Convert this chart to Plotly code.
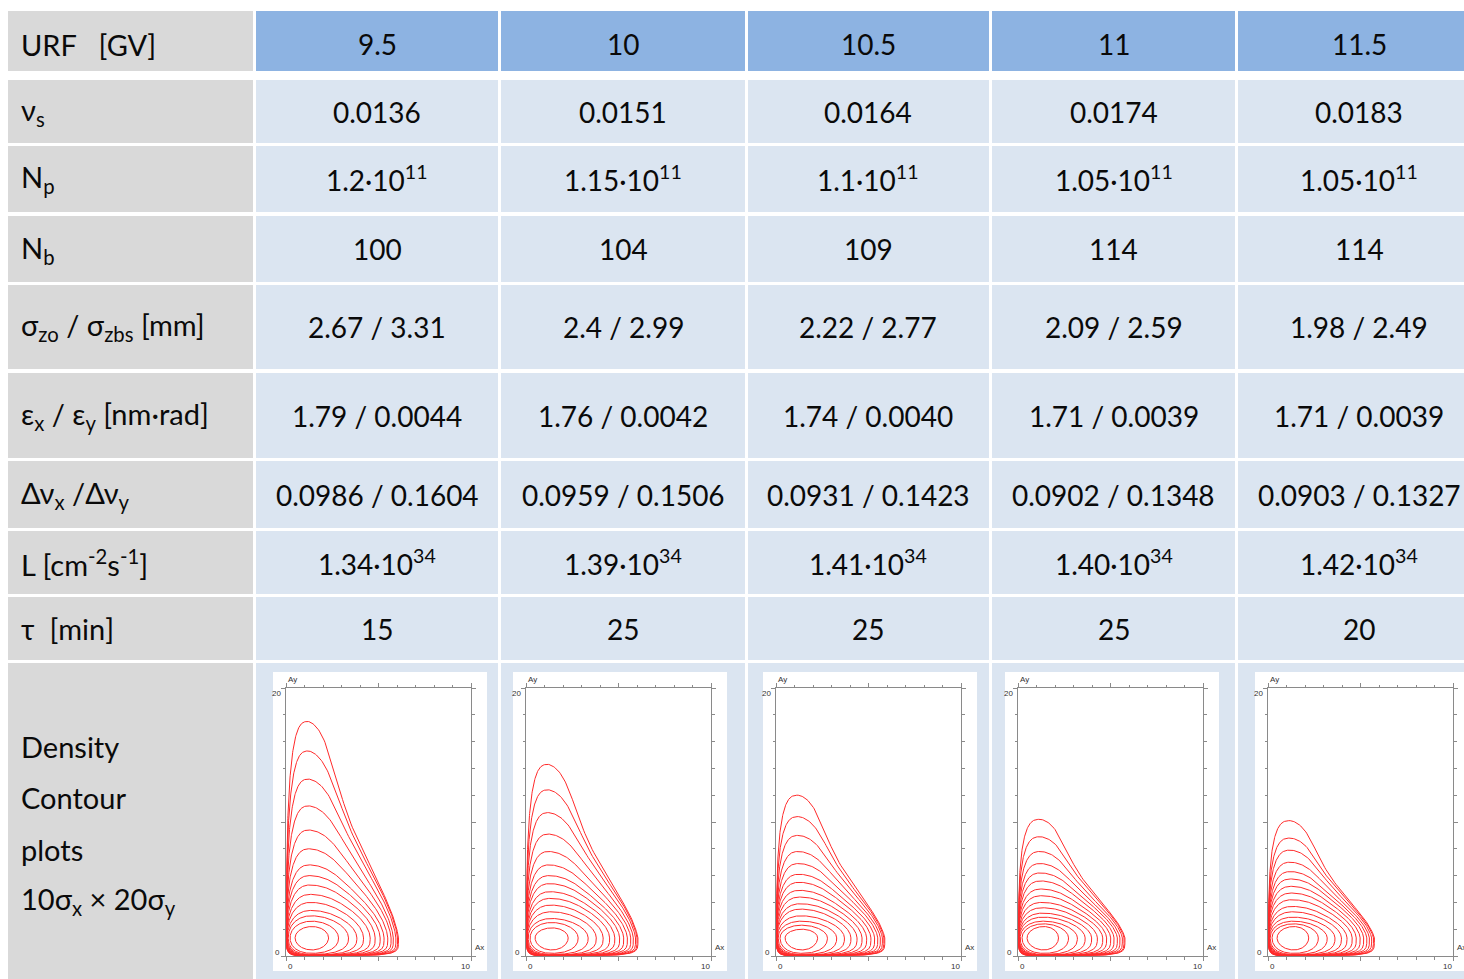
import numpy as np
import plotly.graph_objects as go

W, H = 1464, 979

# ---------------- table values ----------------
urf = ["9.5", "10", "10.5", "11", "11.5"]
nu_s = ["0.0136", "0.0151", "0.0164", "0.0174", "0.0183"]
n_p = ["1.2", "1.15", "1.1", "1.05", "1.05"]          # x 10^11
n_b = [100, 104, 109, 114, 114]
sigma_zo = ["2.67", "2.4", "2.22", "2.09", "1.98"]
sigma_zbs = ["3.31", "2.99", "2.77", "2.59", "2.49"]
eps_x = ["1.79", "1.76", "1.74", "1.71", "1.71"]
eps_y = ["0.0044", "0.0042", "0.0040", "0.0039", "0.0039"]
dnu_x = ["0.0986", "0.0959", "0.0931", "0.0902", "0.0903"]
dnu_y = ["0.1604", "0.1506", "0.1423", "0.1348", "0.1327"]
lumi = ["1.34", "1.39", "1.41", "1.40", "1.42"]       # x 10^34
tau = [15, 25, 25, 25, 20]

row_labels = [
    "URF\u00a0\u00a0\u00a0[GV]",
    "ν<sub>s</sub>",
    "N<sub>p</sub>",
    "N<sub>b</sub>",
    "σ<sub>zo</sub> / σ<sub>zbs</sub> [mm]",
    "ε<sub>x</sub> / ε<sub>y</sub> [nm·rad]",
    "Δν<sub>x</sub> /Δν<sub>y</sub>",
    "L [cm<sup>-2</sup>s<sup>-1</sup>]",
    "τ\u00a0\u00a0[min]",
]
density_label = ["Density", "Contour", "plots", "10σ<sub>x</sub> × 20σ<sub>y</sub>"]

# ---------------- density contours (Ax, Ay in sigma units) ----------------
# extents of each contour, outermost first
ay_tops = [
    [17.5, 15.3, 13.2, 11.2, 9.4, 8.0, 6.8, 6.0, 5.3, 4.6, 4.0, 3.4, 3.0, 2.6, 2.2],
    [14.3, 12.4, 10.7, 9.1, 7.8, 6.8, 6.0, 5.4, 4.8, 4.3, 3.8, 3.3, 2.8, 2.5, 2.1],
    [12.0, 10.4, 9.0, 7.8, 6.9, 6.1, 5.5, 4.9, 4.4, 3.9, 3.5, 3.0, 2.6, 2.3, 2.0],
    [10.2, 8.9, 7.8, 6.9, 6.2, 5.6, 5.0, 4.5, 4.0, 3.6, 3.2, 2.9, 2.6, 2.4, 2.2],
    [10.1, 8.8, 7.9, 7.0, 6.3, 5.75, 5.2, 4.7, 4.2, 3.7, 3.3, 2.9, 2.6, 2.4, 2.2],
]
ax_rights = [
    [6.08, 6.03, 5.94, 5.80, 5.68, 5.50, 5.30, 5.09, 4.82, 4.55, 4.19, 3.83, 3.38, 2.84, 2.30],
    [6.05, 6.00, 5.92, 5.80, 5.66, 5.48, 5.28, 5.06, 4.80, 4.52, 4.17, 3.80, 3.36, 2.82, 2.28],
    [5.88, 5.83, 5.75, 5.64, 5.50, 5.33, 5.13, 4.90, 4.65, 4.38, 4.05, 3.70, 3.28, 2.78, 2.25],
    [5.78, 5.73, 5.64, 5.51, 5.37, 5.19, 5.01, 4.79, 4.58, 4.29, 3.98, 3.63, 3.21, 2.73, 2.19],
    [5.75, 5.70, 5.60, 5.48, 5.34, 5.17, 4.98, 4.77, 4.55, 4.27, 3.97, 3.62, 3.20, 2.72, 2.20],
]
ax_lefts = [0.03] * 8 + [0.04, 0.05, 0.06, 0.08, 0.12, 0.22, 0.49]
ay_bottoms = [0.03] * 8 + [0.04, 0.05, 0.06, 0.08, 0.12, 0.20, 0.45]

# ---------------- geometry (pixels) ----------------
label_col = (8, 253)
value_cols = [(256, 498), (501, 745), (748, 989), (992, 1235), (1238, 1480)]
rows = [(11, 71), (80, 143), (146, 212), (216, 282), (285, 369),
        (373, 458), (461, 528), (531, 594), (597, 660)]
density_row = (663, 990)
plot_lefts = [286, 526, 776, 1018, 1268]
plot_w = 185
plot_top, plot_bot = 688, 956

GREY = "#D9D9D9"
HEAD_BLUE = "#8DB3E2"
BODY_BLUE = "#DBE5F1"
FONT = "Lato"
TXT = "#0A0A0A"
AXC = "#8A8A8A"
TICKFONT = dict(family="Arial", size=8, color="#333333")


def px(x):
    return x / W


def py(y):
    return 1 - y / H


shapes = []


def rect(x0, y0, x1, y1, color):
    shapes.append(dict(type="rect", xref="paper", yref="paper",
                       x0=px(x0), x1=px(x1), y0=py(y1), y1=py(y0),
                       fillcolor=color, line=dict(width=0), layer="below"))


annotations = []


def text(x, y, s, size=28, anchor="center", color=TXT, fam=FONT):
    annotations.append(dict(xref="paper", yref="paper", x=px(x), y=py(y),
                            text=s, showarrow=False, xanchor=anchor,
                            yanchor="middle",
                            font=dict(family=fam, size=size, color=color)))


# cell backgrounds
for r, (y0, y1) in enumerate(rows):
    rect(label_col[0], y0, label_col[1], y1, GREY)
    for (x0, x1) in value_cols:
        rect(x0, y0, x1, y1, HEAD_BLUE if r == 0 else BODY_BLUE)
rect(label_col[0], density_row[0], label_col[1], density_row[1], GREY)
for (x0, x1) in value_cols:
    rect(x0, density_row[0], x1, density_row[1], BODY_BLUE)

# white panels behind the contour plots
for xl in plot_lefts:
    rect(xl - 13, 672, xl + plot_w + 16, 971, "white")

# cell text
cells = [
    urf,
    nu_s,
    [f"{m}·10<sup>11</sup>" for m in n_p],
    [str(v) for v in n_b],
    [f"{a} / {b}" for a, b in zip(sigma_zo, sigma_zbs)],
    [f"{a} / {b}" for a, b in zip(eps_x, eps_y)],
    [f"{a} / {b}" for a, b in zip(dnu_x, dnu_y)],
    [f"{m}·10<sup>34</sup>" for m in lumi],
    [str(v) for v in tau],
]
for r, (y0, y1) in enumerate(rows):
    yc = (y0 + y1) / 2 + (3 if r == 0 else 0)
    text(19, yc, row_labels[r], size=29, anchor="left")
    for c, (x0, x1) in enumerate(value_cols):
        text((x0 + x1) / 2, yc, cells[r][c])

for i, s in enumerate(density_label):
    text(19, 746 + i * 51.5, s, size=29, anchor="left")


# ---------------- contour panels ----------------
def quad_exp(theta, p_mid, p_top, p_right):
    """Exponent of the upper-right arc, rounder near its two ends."""
    c2 = np.cos(2 * theta)
    w_top = np.clip(-c2, 0, 1) ** 2
    w_right = np.clip(c2, 0, 1) ** 2
    return p_mid + (p_top - p_mid) * w_top + (p_right - p_mid) * w_right


def ring(xc, yc, left, right, bottom, top, ur, p_ul, p_ll, p_lr, n=90):
    t = np.linspace(0, np.pi / 2, n)
    c, s = np.cos(t), np.sin(t)
    p_ur = quad_exp(t, *ur)
    x1 = xc + (right - xc) * c ** (2 / p_ur)
    y1 = yc + (top - yc) * s ** (2 / p_ur)
    x2 = xc - (xc - left) * s ** (2 / p_ul)
    y2 = yc + (top - yc) * c ** (2 / p_ul)
    x3 = xc - (xc - left) * c ** (2 / p_ll)
    y3 = yc - (yc - bottom) * s ** (2 / p_ll)
    x4 = xc + (right - xc) * s ** (2 / p_lr)
    y4 = yc - (yc - bottom) * c ** (2 / p_lr)
    return np.concatenate([x1, x2, x3, x4]), np.concatenate([y1, y2, y3, y4])


fig = go.Figure()
layout_axes = {}
n_rings = len(ax_lefts)
for i in range(5):
    suffix = "" if i == 0 else str(i + 1)
    xr, yr = "x" + suffix, "y" + suffix
    for j in range(n_rings):
        f = j / (n_rings - 1)
        ur = (1.0 + 1.0 * f, 1.45 + 0.55 * f, 1.2 + 0.8 * f)
        xs, ys = ring(1.2 + 0.2 * f, 1.35,
                      ax_lefts[j], ax_rights[i][j], ay_bottoms[j], ay_tops[i][j],
                      ur, 3.0 - 1.0 * f, 5.0 - 3.0 * f, 6.0 - 4.0 * f)
        fig.add_trace(go.Scatter(x=xs, y=ys, mode="lines", xaxis=xr, yaxis=yr,
                                 hoverinfo="skip", showlegend=False,
                                 line=dict(color="#FF2A2A", width=1)))
    axcommon = dict(showgrid=False, zeroline=False, showline=True,
                    linecolor=AXC, linewidth=1, mirror="ticks",
                    ticks="outside", tickcolor=AXC, tickwidth=1,
                    ticklen=4, tickmode="array", showticklabels=False,
                    fixedrange=True)
    layout_axes["xaxis" + suffix] = dict(
        axcommon, domain=[px(plot_lefts[i]), px(plot_lefts[i] + plot_w)],
        range=[0, 10], anchor=yr, tickvals=[0, 5, 10],
        minor=dict(ticks="outside", ticklen=2.5, dtick=1, tick0=0,
                   tickcolor=AXC, tickwidth=1))
    layout_axes["yaxis" + suffix] = dict(
        axcommon, domain=[py(plot_bot), py(plot_top)],
        range=[0, 20], anchor=xr, tickvals=[0, 10, 20],
        minor=dict(ticks="outside", ticklen=2.5, dtick=2, tick0=0,
                   tickcolor=AXC, tickwidth=1))

    xd, yd = xr + " domain", yr + " domain"
    small = [
        # (text, xref, x, yref, y, xanchor, yanchor, xshift, yshift)
        ("Ay", xd, 0.0, yd, 1.0, "left", "bottom", 0, 2),
        ("Ax", xd, 1.0, yd, 0.0, "left", "bottom", 2, 2),
        ("20", xd, 0.0, yr, 20, "right", "middle", -3, -5),
        ("0", xd, 0.0, yr, 0, "right", "middle", -4, 4),
        ("0", xr, 0, yd, 0.0, "left", "top", 0, -4),
        ("10", xr, 10, yd, 0.0, "right", "top", 1, -4),
    ]
    for (s, xref, x, yref, y, xa, ya, xs_, ys_) in small:
        annotations.append(dict(xref=xref, yref=yref, x=x, y=y, text=s,
                                showarrow=False, xanchor=xa, yanchor=ya,
                                xshift=xs_, yshift=ys_, font=TICKFONT))

fig.update_layout(
    width=W, height=H,
    margin=dict(l=0, r=0, t=0, b=0),
    paper_bgcolor="white",
    plot_bgcolor="rgba(0,0,0,0)",
    shapes=shapes,
    annotations=annotations,
    **layout_axes,
)

fig.write_html("out.html")
